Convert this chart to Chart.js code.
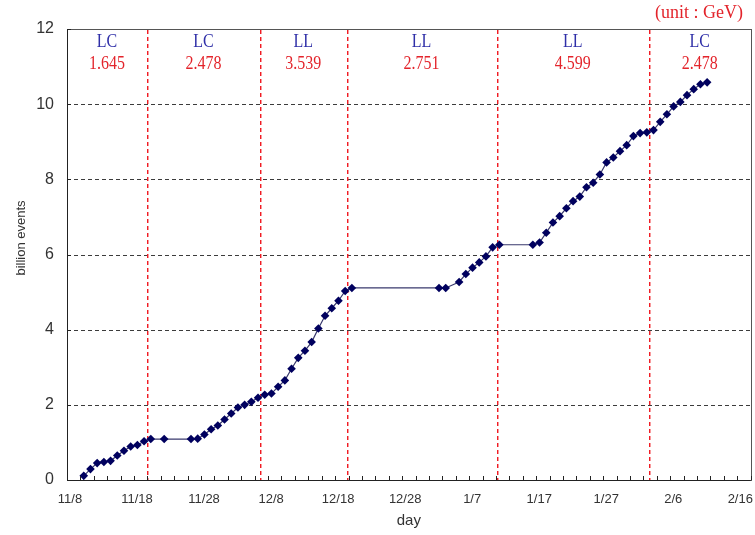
<!DOCTYPE html>
<html>
<head>
<meta charset="utf-8">
<title>billion events</title>
<script src="https://cdn.jsdelivr.net/npm/chart.js@4/dist/chart.umd.min.js"></script>
<style>
  html, body { margin: 0; padding: 0; background: #ffffff; }
  #wrap { width: 755px; height: 535px; }
</style>
</head>
<body>
<div id="wrap"><canvas id="c" width="755" height="535"></canvas></div>
<script>
// Accumulated events (billions) per run day, with gaps where no data was taken.
const runDates = [
  '11/10','11/11','11/12','11/13','11/14','11/15','11/16','11/17','11/18','11/19','11/20',
  '11/22',
  '11/26',
  '11/27','11/28','11/29','11/30','12/1','12/2','12/3','12/4','12/5','12/6','12/7','12/8',
  '12/9','12/10','12/11','12/12','12/13','12/14','12/15','12/16','12/17','12/18','12/19','12/20',
  '1/2','1/3',
  '1/5','1/6','1/7','1/8','1/9','1/10','1/11',
  '1/16','1/17','1/18','1/19','1/20','1/21','1/22','1/23','1/24','1/25','1/26','1/27','1/28',
  '1/29','1/30','1/31','2/1','2/2','2/3','2/4','2/5','2/6','2/7','2/8','2/9','2/10','2/11'
];
const billionEvents = [
  0.11, 0.29, 0.45, 0.48, 0.51, 0.65, 0.78, 0.89, 0.93, 1.03, 1.09,
  1.09,
  1.09,
  1.10, 1.21, 1.35, 1.45, 1.61, 1.77, 1.93, 2.00, 2.08, 2.19, 2.27, 2.30,
  2.48, 2.65, 2.96, 3.25, 3.44, 3.67, 4.03, 4.37, 4.57, 4.77, 5.03, 5.11,
  5.11, 5.11,
  5.27, 5.48, 5.65, 5.79, 5.95, 6.19, 6.26,
  6.26, 6.32, 6.58, 6.85, 7.02, 7.23, 7.42, 7.54, 7.79, 7.91, 8.13, 8.45,
  8.58, 8.75, 8.91, 9.15, 9.23, 9.25, 9.31, 9.53, 9.73, 9.94, 10.06, 10.24, 10.40, 10.53, 10.58
];

// Axis tick labels (every 10 days from 11/8)
const xTickLabels = ['11/8','11/18','11/28','12/8','12/18','12/28','1/7','1/17','1/27','2/6','2/16'];
const yTicks = [0, 2, 4, 6, 8, 10, 12];

// Run periods: beam mode and beam energy, separated by boundaries (days after 11/8)
const periodModes = ['LC', 'LC', 'LL', 'LL', 'LL', 'LC'];
const periodEnergies = ['1.645', '2.478', '3.539', '2.751', '4.599', '2.478'];
const periodBoundaries = [11.9, 28.8, 41.7, 64.1, 86.8];
const unitLabel = '(unit : GeV)';

// Days after 11/8 (year rolls over in January); readings plotted at midday.
function dayOffset(md) {
  const [m, d] = md.split('/').map(Number);
  const year = m >= 11 ? 2009 : 2010;
  const t = Date.UTC(year, m - 1, d);
  const t0 = Date.UTC(2009, 10, 8);
  return (t - t0) / 86400000 + 0.5;
}

const points = runDates.map((md, i) => ({ x: dayOffset(md), y: billionEvents[i] }));

const SERIF = '"Liberation Serif", "Times New Roman", serif';
const SANS = '"Liberation Sans", Arial, sans-serif';

// dashed horizontal grid at the inner y ticks
const dashedGrid = {
  id: 'dashedGrid',
  beforeDatasetsDraw(chart) {
    const { ctx, chartArea: a, scales: { y } } = chart;
    ctx.save();
    ctx.lineWidth = 1;
    ctx.strokeStyle = '#3c3c3c';
    ctx.setLineDash([4, 3]);
    y.ticks.forEach(t => {
      if (t.value === y.min || t.value === y.max) return;
      const py = Math.round(y.getPixelForValue(t.value)) + 0.5;
      ctx.beginPath();
      ctx.moveTo(a.left, py);
      ctx.lineTo(a.right, py);
      ctx.stroke();
    });
    ctx.restore();
  }
};

// red dashed separators between run periods (soft ~1.5px dashes)
const periodLines = {
  id: 'periodLines',
  beforeDatasetsDraw(chart) {
    const { ctx, chartArea: a, scales: { x } } = chart;
    ctx.save();
    periodBoundaries.forEach(b => {
      const px = Math.round(x.getPixelForValue(b));
      for (let yy = a.top + 1; yy < a.bottom; yy += 7) {
        const h = Math.min(4, a.bottom - yy);
        ctx.fillStyle = '#f01c24';
        ctx.fillRect(px, yy, 1, h);
        ctx.fillStyle = 'rgba(240, 28, 36, 0.45)';
        ctx.fillRect(px + 1, yy, 1, h);
      }
    });
    ctx.restore();
  }
};

const frameAndText = {
  id: 'frameAndText',
  afterDraw(chart) {
    const { ctx, chartArea: a, scales: { x, y } } = chart;
    ctx.save();
    // frame
    ctx.strokeStyle = '#555555';
    ctx.lineWidth = 1;
    ctx.strokeRect(Math.round(a.left) + 0.5, Math.round(a.top) + 0.5,
                   Math.round(a.right - a.left), Math.round(a.bottom - a.top));
    // inward tick marks
    ctx.strokeStyle = '#222222';
    ctx.beginPath();
    x.ticks.forEach(t => {
      const px = Math.round(x.getPixelForValue(t.value)) + 0.5;
      ctx.moveTo(px, a.bottom);
      ctx.lineTo(px, a.bottom - 4);
    });
    y.ticks.forEach(t => {
      const py = Math.round(y.getPixelForValue(t.value)) + 0.5;
      ctx.moveTo(a.left, py);
      ctx.lineTo(a.left + 4, py);
    });
    ctx.stroke();
    // axis lines
    ctx.beginPath();
    ctx.moveTo(Math.round(a.left) + 0.5, a.top);
    ctx.lineTo(Math.round(a.left) + 0.5, Math.round(a.bottom) + 0.5);
    ctx.lineTo(a.right, Math.round(a.bottom) + 0.5);
    ctx.stroke();

    // period labels
    ctx.textAlign = 'center';
    ctx.textBaseline = 'middle';
    const edges = [a.left, ...periodBoundaries.map(b => x.getPixelForValue(b)), a.right];
    periodModes.forEach((mode, i) => {
      const cx = (edges[i] + edges[i + 1]) / 2;
      ctx.font = '16px ' + SERIF;
      ctx.save();
      ctx.translate(cx, 42);
      ctx.scale(1, 1.2);
      ctx.fillStyle = '#2f2fa8';
      ctx.fillText(mode, 0, 0);
      ctx.restore();
      ctx.save();
      ctx.translate(cx, 64);
      ctx.scale(1, 1.2);
      ctx.fillStyle = '#e3242b';
      ctx.fillText(periodEnergies[i], 0, 0);
      ctx.restore();
    });

    // unit note
    ctx.font = '18px ' + SERIF;
    ctx.fillStyle = '#e3242b';
    ctx.textAlign = 'right';
    ctx.fillText(unitLabel, 743, 13);

    // axis titles
    ctx.fillStyle = '#333333';
    ctx.font = '15px ' + SANS;
    ctx.textAlign = 'center';
    ctx.fillText('day', (a.left + a.right) / 2, 521);
    ctx.save();
    ctx.translate(21, 238);
    ctx.rotate(-Math.PI / 2);
    ctx.font = '13px ' + SANS;
    ctx.fillText('billion events', 0, 0);
    ctx.restore();
    ctx.restore();
  }
};

new Chart(document.getElementById('c'), {
  type: 'line',
  data: {
    datasets: [{
      data: points,
      borderColor: '#3a3a6e',
      borderWidth: 1.2,
      backgroundColor: '#000066',
      pointStyle: 'rectRot',
      pointRadius: 4.3,
      pointBorderWidth: 0,
      pointBackgroundColor: '#00005e',
      pointBorderColor: '#00005e',
      tension: 0,
      spanGaps: true
    }]
  },
  options: {
    responsive: false,
    animation: false,
    devicePixelRatio: 1,
    layout: { padding: { top: 29, right: 3, left: 0, bottom: 0 } },
    plugins: { legend: { display: false }, tooltip: { enabled: false } },
    scales: {
      x: {
        type: 'linear',
        min: 0,
        max: 102,
        border: { display: false },
        grid: { display: false, drawTicks: false },
        ticks: {
          stepSize: 2,
          autoSkip: false,
          maxRotation: 0,
          padding: 12,
          labelOffset: 3,
          color: '#333333',
          font: { family: SANS, size: 13 },
          callback: v => (v % 10 === 0 && xTickLabels[v / 10] !== undefined) ? xTickLabels[v / 10] : ''
        },
        afterFit(scale) {
          scale.height = 55;
          scale.paddingLeft = 0;
          scale.paddingRight = 0;
        }
      },
      y: {
        min: 0,
        max: 12,
        border: { display: false },
        afterBuildTicks(scale) { scale.ticks = yTicks.map(v => ({ value: v })); },
        grid: { display: false, drawTicks: false },
        ticks: {
          padding: 13,
          color: '#333333',
          font: { family: SANS, size: 16 }
        },
        afterFit(scale) { scale.width = 67; }
      }
    }
  },
  plugins: [dashedGrid, periodLines, frameAndText]
});
</script>
</body>
</html>
